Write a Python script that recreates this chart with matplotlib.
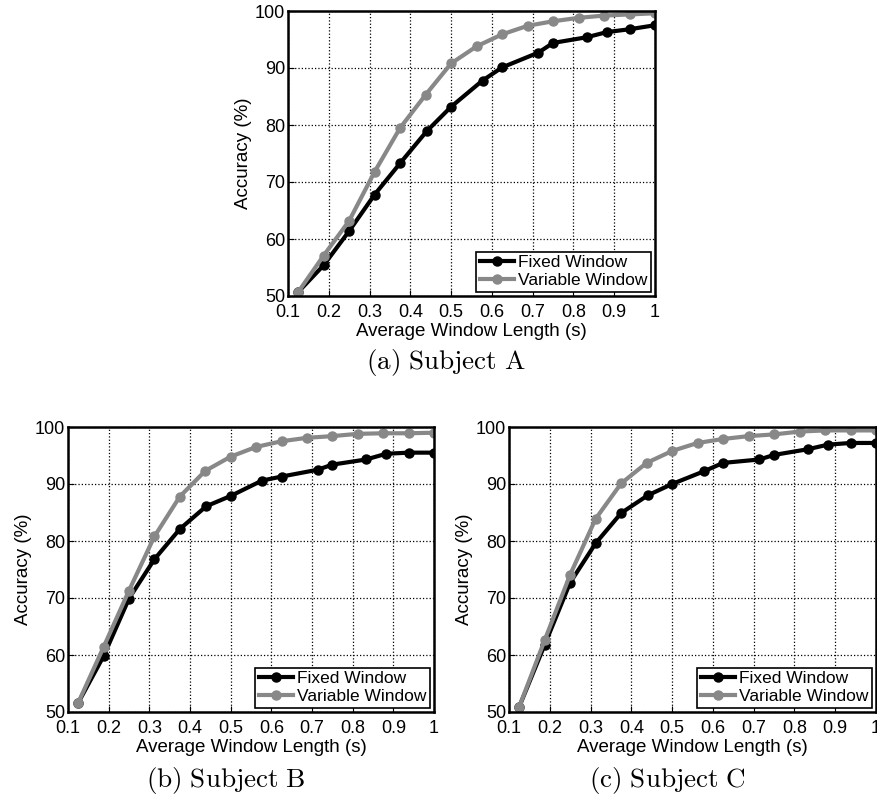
import matplotlib
matplotlib.use("Agg")
import matplotlib.pyplot as plt

plt.rcParams['font.family'] = ['Liberation Sans', 'DejaVu Sans']
plt.rcParams['mathtext.fontset'] = 'cm'

# x positions (s)
x_fixed = [0.125, 0.1875, 0.25, 0.3125, 0.375, 0.44, 0.5, 0.577, 0.625, 0.714, 0.75, 0.833, 0.882, 0.9375, 1.0]
x_var = [0.125, 0.1875, 0.25, 0.3125, 0.375, 0.4375, 0.5, 0.5625, 0.625, 0.6875, 0.75, 0.8125, 0.875, 0.9375, 1.0]

# Subject A
a_fixed = [50.7, 55.4, 61.4, 67.8, 73.3, 78.9, 83.2, 87.8, 90.1, 92.7, 94.4, 95.4, 96.3, 96.8, 97.5]
a_var = [50.7, 57.1, 63.2, 71.8, 79.5, 85.3, 90.8, 93.8, 95.9, 97.4, 98.2, 98.8, 99.2, 99.4, 99.6]
# Subject B
b_fixed = [51.6, 59.8, 69.9, 76.8, 82.1, 86.1, 87.9, 90.6, 91.3, 92.5, 93.4, 94.3, 95.3, 95.5, 95.5]
b_var = [51.6, 61.4, 71.3, 80.8, 87.8, 92.3, 94.8, 96.5, 97.5, 98.1, 98.4, 98.8, 98.9, 98.9, 99.0]
# Subject C
c_fixed = [50.9, 61.8, 72.7, 79.6, 84.9, 88.0, 90.0, 92.2, 93.7, 94.3, 95.1, 96.1, 96.9, 97.2, 97.2]
c_var = [50.9, 62.6, 74.1, 83.9, 90.1, 93.7, 95.8, 97.2, 97.9, 98.4, 98.7, 99.2, 99.4, 99.4, 99.4]

xticks = [0.1, 0.2, 0.3, 0.4, 0.5, 0.6, 0.7, 0.8, 0.9, 1.0]
xticklabels = ['0.1', '0.2', '0.3', '0.4', '0.5', '0.6', '0.7', '0.8', '0.9', '1']
yticks = [50, 60, 70, 80, 90, 100]

W, H = 878, 797
fig = plt.figure(figsize=(W / 100, H / 100), dpi=100)


def panel(left, top, right, bottom, fixed, var):
    ax = fig.add_axes([left / W, 1 - bottom / H, (right - left) / W, (bottom - top) / H])
    ax.plot(x_fixed, fixed, color='black', lw=3, marker='o', ms=6.5, label='Fixed Window')
    ax.plot(x_var, var, color='#888888', lw=3, marker='o', ms=6.5, label='Variable Window')
    ax.set_xlim(0.1, 1.0)
    ax.set_ylim(50, 100)
    ax.set_xticks(xticks)
    ax.set_xticklabels(xticklabels)
    ax.set_yticks(yticks)
    ax.grid(True, color='black', ls=':', lw=0.9)
    ax.tick_params(direction='in', labelsize=13, length=4)
    ax.tick_params(axis='x', pad=5.5)
    ax.tick_params(axis='y', pad=2)
    for s in ax.spines.values():
        s.set_linewidth(1.8)
    ax.set_xlabel('Average Window Length (s)', fontsize=13.5, labelpad=1.5)
    ax.set_ylabel('Accuracy (%)', fontsize=13.5, labelpad=2)
    leg = ax.legend(loc='lower right', fontsize=12.5, fancybox=False, framealpha=1,
                    edgecolor='black', borderaxespad=0.25, handlelength=2.0,
                    borderpad=0.2, labelspacing=0.15, handletextpad=0.2)
    leg.get_frame().set_linewidth(1.2)
    return ax


panel(288, 11, 655, 296, a_fixed, a_var)
panel(68, 427, 434, 712, b_fixed, b_var)
panel(509, 427, 876, 712, c_fixed, c_var)

fig.text(446 / W, 1 - 363 / H, r'$\mathrm{(a)\ Subject\ A}$', ha='center', va='center', fontsize=19.5)
fig.text(226 / W, 1 - 781 / H, r'$\mathrm{(b)\ Subject\ B}$', ha='center', va='center', fontsize=19.5)
fig.text(667 / W, 1 - 781 / H, r'$\mathrm{(c)\ Subject\ C}$', ha='center', va='center', fontsize=19.5)

fig.savefig('out.png', dpi=100)
